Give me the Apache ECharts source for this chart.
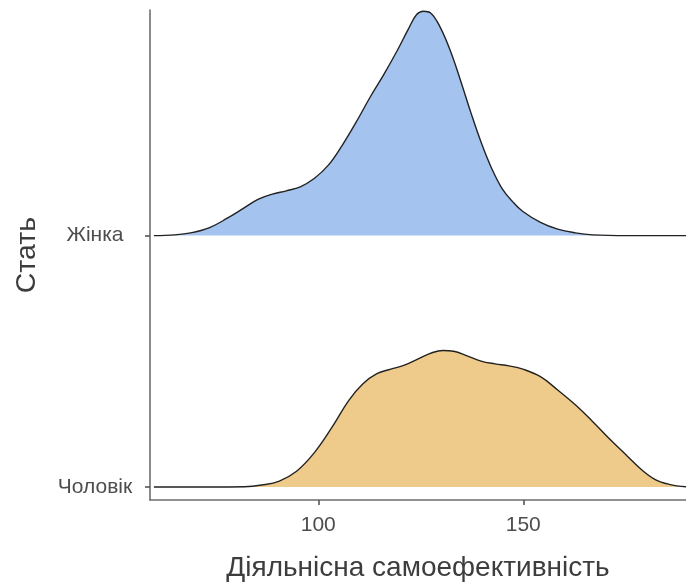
<!DOCTYPE html>
<html>
<head>
<meta charset="utf-8">
<script src="https://cdn.jsdelivr.net/npm/echarts@6/dist/echarts.min.js"></script>
<style>
html,body{margin:0;padding:0;background:#fff;}
#chart{width:686px;height:587px;}
</style>
</head>
<body>
<div id="chart"></div>
<script>
// Categories (ridge baselines: index 0 = bottom, 1 = top)
const categories = ['Чоловік', 'Жінка'];
const xTicks = [100, 150];
const xTitle = 'Діяльнісна самоефективність';
const yTitle = 'Стать';

// Female density (x value, scaled ridge height)
const femaleX = [59.9, 65.0, 69.2, 73.5, 77.8, 82.0, 85.4, 88.8, 92.2, 95.6, 99.0, 102.4, 105.8, 109.2, 112.6, 116.0, 119.4, 121.9, 124.0, 125.7, 127.4, 129.6, 132.1, 134.6, 137.2, 139.7, 142.3, 144.8, 147.4, 149.9, 154.2, 158.4, 162.7, 166.9, 175.4, 189.7];
const femaleD = [0.000, 0.003, 0.012, 0.032, 0.069, 0.111, 0.145, 0.165, 0.178, 0.194, 0.227, 0.279, 0.358, 0.450, 0.549, 0.641, 0.740, 0.819, 0.879, 0.892, 0.885, 0.833, 0.740, 0.622, 0.490, 0.372, 0.267, 0.188, 0.135, 0.096, 0.053, 0.026, 0.011, 0.003, 0.000, 0.000];

// Male density
const maleX = [59.9, 73.5, 82.0, 86.2, 90.5, 94.7, 99.0, 103.2, 107.5, 110.9, 114.3, 117.7, 121.0, 124.5, 127.9, 130.4, 133.0, 136.3, 139.7, 143.1, 146.5, 149.9, 154.2, 158.4, 162.7, 166.9, 171.2, 175.4, 178.8, 182.2, 185.6, 189.7];
const maleD = [0.000, 0.000, 0.001, 0.008, 0.024, 0.063, 0.136, 0.234, 0.346, 0.411, 0.451, 0.469, 0.485, 0.511, 0.535, 0.543, 0.540, 0.522, 0.501, 0.490, 0.482, 0.469, 0.439, 0.386, 0.327, 0.261, 0.189, 0.123, 0.070, 0.030, 0.011, 0.001];

const colors = ['#EFCB8B', '#A4C3EF'];
const font = 'Liberation Sans, Arial, sans-serif';

const chart = echarts.init(document.getElementById('chart'), null, {renderer: 'canvas'});

function ridge(xs, ds, base, color) {
  return {
    type: 'line',
    data: xs.map((x, i) => [x, base + ds[i]]),
    smooth: 0.4,
    symbol: 'none',
    lineStyle: {color: '#222222', width: 1.4},
    areaStyle: {color: color, opacity: 1, origin: base},
    silent: true,
    z: 2
  };
}

chart.setOption({
  animation: false,
  grid: {left: 150, right: 0, top: 10, bottom: 85, containLabel: false},
  xAxis: {
    type: 'value',
    min: 58.95,
    max: 189.7,
    axisLine: {show: true, onZero: false, lineStyle: {color: '#6e6e6e', width: 1.6}},
    axisTick: {show: true, length: 5, lineStyle: {color: '#555', width: 1.6}, customValues: xTicks},
    axisLabel: {customValues: xTicks, color: '#4d4d4d', fontSize: 21, margin: 15, fontFamily: font},
    splitLine: {show: false},
    name: xTitle,
    nameLocation: 'middle',
    nameGap: 54,
    nameTextStyle: {color: '#3d3d3d', fontSize: 28, fontFamily: font}
  },
  yAxis: {
    type: 'value',
    min: -0.0514,
    max: 1.897,
    axisLine: {show: true, onZero: false, lineStyle: {color: '#6e6e6e', width: 1.6}},
    axisTick: {show: true, length: 5, lineStyle: {color: '#555', width: 1.6}, customValues: [0, 1]},
    axisLabel: {
      customValues: [0, 1],
      formatter: v => categories[Math.round(v)],
      color: '#4d4d4d', fontSize: 21, margin: 55, align: 'center',
      fontFamily: font
    },
    splitLine: {show: false},
    name: yTitle,
    nameLocation: 'middle',
    nameGap: 108,
    nameTextStyle: {color: '#3d3d3d', fontSize: 28.5, fontFamily: font}
  },
  series: [
    ridge(maleX, maleD, 0, colors[0]),
    ridge(femaleX, femaleD, 1, colors[1])
  ]
});
</script>
</body>
</html>
